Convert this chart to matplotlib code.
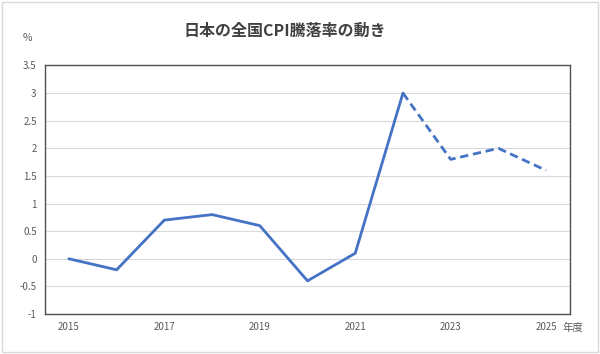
import matplotlib
matplotlib.use("Agg")
import matplotlib.pyplot as plt
from matplotlib.patches import Rectangle

plt.rcParams['font.family'] = ['Noto Sans CJK JP', 'DejaVu Sans']

# data
years = [2015, 2016, 2017, 2018, 2019, 2020, 2021, 2022, 2023, 2024, 2025]
cpi = [0.0, -0.2, 0.7, 0.8, 0.6, -0.4, 0.1, 3.0, 1.8, 2.0, 1.6]
forecast_from = 2022  # dashed from here on
xticks = [2015, 2017, 2019, 2021, 2023, 2025]
yticks = [-1, -0.5, 0, 0.5, 1, 1.5, 2, 2.5, 3, 3.5]
ytick_labels = ['-1', '-0.5', '0', '0.5', '1', '1.5', '2', '2.5', '3', '3.5']

blue = '#4472C4'
text_gray = '#595959'

fig = plt.figure(figsize=(6.0, 3.54), dpi=100)
ax = fig.add_axes([0.075, 0.113, 0.875, 0.702])

i = years.index(forecast_from)
ax.plot(years[:i + 1], cpi[:i + 1], color=blue, lw=2.0, solid_capstyle='round', zorder=3)
ax.plot(years[i:], cpi[i:], color=blue, lw=2.0, ls=(0, (3, 1.7)), zorder=3)

ax.set_xlim(2014.5, 2025.5)
ax.set_ylim(-1, 3.5)
ax.set_xticks(xticks)
ax.set_xticklabels([str(y) for y in xticks])
ax.set_yticks(yticks)
ax.set_yticklabels(ytick_labels)
ax.tick_params(length=0, labelsize=7, colors=text_gray, pad=6)
ax.grid(axis='y', color='#d9d9d9', lw=0.8)
ax.set_axisbelow(True)
for s in ax.spines.values():
    s.set_color('#505050')
    s.set_linewidth(1.0)

fig.text(0.475, 0.912, '日本の全国CPI騰落率の動き', ha='center', va='center',
         fontsize=11.5, fontweight='bold', color='#404040')
fig.text(0.045, 0.893, '%', ha='center', va='center', fontsize=7.5, color=text_gray)
fig.text(0.955, 0.074, '年度', ha='center', va='center', fontsize=7.5, color=text_gray)

# outer frame
fig.patches.append(Rectangle((0.003, 0.006), 0.994, 0.988, transform=fig.transFigure,
                             fill=False, edgecolor='#d9d9d9', lw=1.0))

fig.savefig('out.png', dpi=100)
